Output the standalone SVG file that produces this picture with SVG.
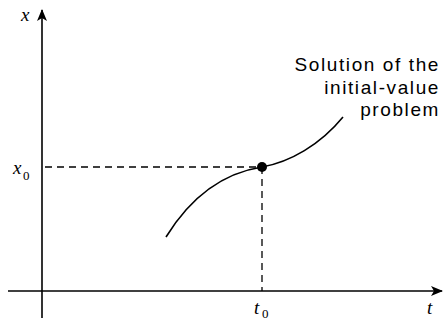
<svg xmlns="http://www.w3.org/2000/svg" width="444" height="326" viewBox="0 0 444 326">
<style>
.ax{stroke:#000;stroke-width:1.6;fill:none}
.dash{stroke:#000;stroke-width:1.3;fill:none;stroke-dasharray:7,5}
.lbl{font-family:"Liberation Serif",serif;font-style:italic;font-size:19px;fill:#000}
.sub{font-family:"Liberation Serif",serif;font-size:13px;fill:#000}
.txt{font-family:"Liberation Sans",Arial,sans-serif;font-size:19px;letter-spacing:1.6px;fill:#000;text-anchor:end}
</style>
<defs>
<marker id="ar" markerWidth="12" markerHeight="10" refX="11" refY="5" orient="auto" markerUnits="userSpaceOnUse">
<path d="M0,0 L12,5 L0,10 L3,5 Z" fill="#000"/>
</marker>
</defs>
<g id="connectors">
<line class="ax" x1="42" y1="318" x2="42" y2="10" marker-end="url(#ar)"/>
<line class="ax" x1="8" y1="291" x2="442" y2="291" marker-end="url(#ar)"/>
<line class="dash" x1="45" y1="167" x2="262" y2="167"/>
<line class="dash" x1="262" y1="167" x2="262" y2="291"/>
</g>
<g id="curve">
<path class="ax" d="M166,237 C195,190 230,172 262,167 C290,162 320,145 343,117" stroke-width="1.5"/>
</g>
<g id="point">
<circle cx="262" cy="167" r="5" fill="#000"/>
</g>
<g id="labels">
<text class="lbl" x="21" y="21">x</text>
<text class="lbl" x="13" y="174">x</text>
<text class="sub" x="23" y="180">0</text>
<text class="lbl" x="254" y="314">t</text>
<text class="sub" x="262" y="318">0</text>
<text class="lbl" x="427" y="314">t</text>
<text class="txt" x="440" y="71">Solution of the</text>
<text class="txt" x="440" y="94">initial-value</text>
<text class="txt" x="440" y="116">problem</text>
</g>
</svg>
